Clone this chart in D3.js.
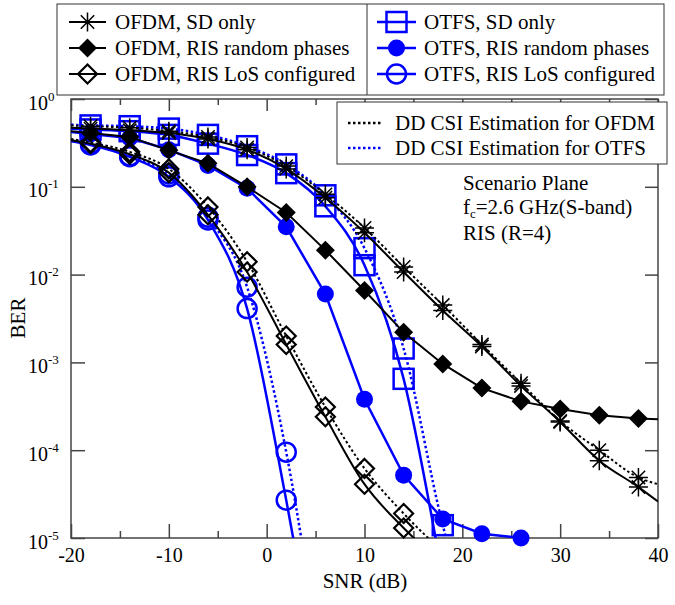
<!DOCTYPE html>
<html><head><meta charset="utf-8">
<script src="https://cdn.jsdelivr.net/npm/d3@7"></script>
<style>body{margin:0;background:#fff}svg{display:block}text{font-family:"Liberation Serif","DejaVu Serif",serif;fill:#000}</style>
</head><body>
<svg id="c" width="675" height="605"></svg>
<script>
// ---- data ----
const snrFull = [-20,-18,-14,-10,-6,-2,2,6,10,14,18,22,26,30,34,38,40];
const ofdmSD      = [0.47,0.46,0.44,0.41,0.35,0.265,0.160,0.075,0.030,0.0107,0.0039,0.00152,0.00054,0.00021,7.6e-5,3.8e-5,2.6e-5];
const ofdmSD_DD   = [0.50,0.49,0.47,0.43,0.37,0.28,0.172,0.082,0.034,0.0122,0.0045,0.0016,0.00058,0.000215,1.0e-4,4.9e-5,4.1e-5];
const ofdmRand    = [0.43,0.41,0.37,0.26,0.185,0.10,0.051,0.019,0.0066,0.0022,0.00096,0.00051,0.00036,0.000295,0.00025,0.00023,0.000225];
const snrLoS = [-20,-18,-14,-10,-6,-2,2,6,10,14,18];
const ofdmLoS     = [0.34,0.31,0.235,0.145,0.048,0.0107,0.0016,0.00024,4.1e-5,1.3e-5,5e-6];
const ofdmLoS_DD  = [0.35,0.32,0.25,0.16,0.059,0.014,0.0020,0.00031,6.2e-5,1.9e-5,7e-6];
const snrOtfsSD = [-20,-18,-14,-10,-6,-2,2,6,10,14,18];
const otfsSD      = [0.46,0.45,0.43,0.39,0.31,0.23,0.143,0.060,0.0128,0.00065,3.5e-6];
const snrOtfsSDdd = [-20,-18,-14,-10,-6,-2,2,6,10,14,18,22];
const otfsSD_DD   = [0.51,0.50,0.49,0.46,0.39,0.29,0.18,0.08,0.020,0.00144,1.4e-5,4.5e-7];
const snrOtfsRand = [-20,-18,-14,-10,-6,-2,2,6,10,14,18,22,26];
const otfsRand    = [0.42,0.40,0.36,0.265,0.175,0.096,0.035,0.006,0.00038,5.2e-5,1.65e-5,1.12e-5,1.0e-5];
const snrOtfsLoS = [-20,-18,-14,-10,-6,-2,2,6];
const otfsLoS     = [0.33,0.30,0.22,0.13,0.042,0.0041,2.7e-5,1e-7];
const otfsLoS_DD  = [0.34,0.31,0.225,0.14,0.045,0.0072,9.5e-5,1.6e-7];

const xTicksMajor = [-20,-10,0,10,20,30,40];
const xTicksMinor = [-15,-5,5,15,25,35];
const yTicks = [1,1e-1,1e-2,1e-3,1e-4,1e-5];
const yTickExp = ["0","-1","-2","-3","-4","-5"];
const legendMain = ["OFDM, SD only","OFDM, RIS random phases","OFDM, RIS LoS configured","OTFS, SD only","OTFS, RIS random phases","OTFS, RIS LoS configured"];
const legendDD = ["DD CSI Estimation for OFDM","DD CSI Estimation for OTFS"];

const BLUE = "#0000ff";
const svg = d3.select("#c");
const x = d3.scaleLinear().domain([-20,40]).range([71,658]);
const y = d3.scaleLog().domain([1e-5,1]).range([538,99]);

svg.append("defs").append("clipPath").attr("id","clip")
  .append("rect").attr("x",71).attr("y",99).attr("width",587).attr("height",439);

// axes
const axCol = "#444";
function styleAxis(g){ g.select(".domain").remove(); g.selectAll("line").attr("stroke",axCol).attr("stroke-width",1.5); }
svg.append("g").attr("transform","translate(0,538)")
  .call(d3.axisBottom(x).tickValues(xTicksMajor).tickSize(-14).tickSizeOuter(0).tickPadding(10).tickFormat(d=>String(d)))
  .call(styleAxis).selectAll("text").attr("font-size",20).attr("fill","#000");
svg.append("g").attr("transform","translate(0,538)")
  .call(d3.axisBottom(x).tickValues(xTicksMinor).tickSize(-7).tickSizeOuter(0).tickFormat("")).call(styleAxis);
svg.append("g").attr("transform","translate(0,99)")
  .call(d3.axisTop(x).tickValues(xTicksMajor).tickSize(-12).tickSizeOuter(0).tickFormat("")).call(styleAxis);
svg.append("g").attr("transform","translate(0,99)")
  .call(d3.axisTop(x).tickValues(xTicksMinor).tickSize(-6).tickSizeOuter(0).tickFormat("")).call(styleAxis);
svg.append("g").attr("transform","translate(71,0)")
  .call(d3.axisLeft(y).tickValues(yTicks).tickSize(-14).tickSizeOuter(0).tickFormat("")).call(styleAxis);
svg.append("g").attr("transform","translate(658,0)")
  .call(d3.axisRight(y).tickValues(yTicks).tickSize(-13).tickSizeOuter(0).tickFormat("")).call(styleAxis);
svg.append("rect").attr("x",71).attr("y",99).attr("width",587).attr("height",439)
  .attr("fill","none").attr("stroke",axCol).attr("stroke-width",1.5);

// y tick labels 10^n
yTicks.forEach((v,i)=>{
  const t = svg.append("text").attr("x",28).attr("y",y(v)+10.5).attr("font-size",20);
  t.append("tspan").text("10");
  t.append("tspan").attr("font-size",13).attr("dy",-9).text(yTickExp[i]);
});

// axis titles
svg.append("text").attr("x",365).attr("y",588).attr("text-anchor","middle").attr("font-size",21).text("SNR (dB)");
svg.append("text").attr("transform","translate(25,318) rotate(-90)").attr("text-anchor","middle").attr("font-size",21).text("BER");

// series
const series = [
  {x:snrOtfsRand, y:otfsRand, c:BLUE, dash:null, m:"circleFilled", curve:d3.curveLinear},
  {x:snrOtfsSD, y:otfsSD, c:BLUE, dash:null, m:"square", curve:d3.curveMonotoneX},
  {x:snrOtfsSDdd, y:otfsSD_DD, c:BLUE, dash:"2.5,2.5", m:"square", curve:d3.curveMonotoneX},
  {x:snrOtfsLoS, y:otfsLoS, c:BLUE, dash:null, m:"circleOpen", curve:d3.curveMonotoneX},
  {x:snrOtfsLoS, y:otfsLoS_DD, c:BLUE, dash:"2.5,2.5", m:"circleOpen", curve:d3.curveMonotoneX},
  {x:snrFull, y:ofdmRand, c:"#000", dash:null, m:"diamondFilled", curve:d3.curveLinear},
  {x:snrLoS, y:ofdmLoS, c:"#000", dash:null, m:"diamondOpen", curve:d3.curveMonotoneX},
  {x:snrLoS, y:ofdmLoS_DD, c:"#000", dash:"2.5,2.5", m:"diamondOpen", curve:d3.curveMonotoneX},
  {x:snrFull, y:ofdmSD, c:"#000", dash:null, m:"asterisk", curve:d3.curveMonotoneX},
  {x:snrFull, y:ofdmSD_DD, c:"#000", dash:"2.5,2.5", m:"asterisk", curve:d3.curveMonotoneX},
];

function marker(g, type, cx, cy, col){
  const s = g.append("g").attr("transform",`translate(${cx},${cy})`);
  if(type==="square") s.append("rect").attr("x",-10).attr("y",-10).attr("width",20).attr("height",20).attr("fill","none").attr("stroke",col).attr("stroke-width",2.5);
  else if(type==="circleOpen") s.append("circle").attr("r",9.5).attr("fill","none").attr("stroke",col).attr("stroke-width",2.5);
  else if(type==="circleFilled") s.append("circle").attr("r",8.5).attr("fill",col);
  else if(type==="diamondFilled") s.append("path").attr("d","M0,-9.5L9.5,0L0,9.5L-9.5,0Z").attr("fill",col);
  else if(type==="diamondOpen") s.append("path").attr("d","M0,-9.5L9.5,0L0,9.5L-9.5,0Z").attr("fill","none").attr("stroke",col).attr("stroke-width",2.2);
  else if(type==="asterisk") s.append("path").attr("d","M0,-9.5V9.5M-9.5,0H9.5M-6.7,-6.7L6.7,6.7M-6.7,6.7L6.7,-6.7").attr("fill","none").attr("stroke",col).attr("stroke-width",1.5);
}

const plot = svg.append("g");
series.forEach(s=>{
  const pts = s.x.map((v,i)=>[v,s.y[i]]);
  const line = d3.line().x(d=>x(d[0])).y(d=>y(d[1])).curve(s.curve);
  plot.append("path").attr("d",line(pts)).attr("clip-path","url(#clip)")
    .attr("fill","none").attr("stroke",s.c).attr("stroke-width",s.c===BLUE?2.5:2)
    .attr("stroke-dasharray",s.dash);
  pts.filter(d=>d[0]>-20 && d[0]<40 && d[1]>=0.95e-5).forEach(d=>marker(plot,s.m,x(d[0]),y(d[1]),s.c));
});

// top legend
svg.append("rect").attr("x",57).attr("y",4).attr("width",607).attr("height",91).attr("fill","#fff").attr("stroke","#333").attr("stroke-width",1);
svg.append("line").attr("x1",367).attr("x2",367).attr("y1",4).attr("y2",95).attr("stroke","#333").attr("stroke-width",1);
const legM = ["asterisk","diamondFilled","diamondOpen","square","circleFilled","circleOpen"];
const rowsY = [22,48,74];
legendMain.forEach((t,i)=>{
  const col = i<3 ? "#000" : BLUE;
  const x0 = i<3 ? 69 : 377, x1 = i<3 ? 106 : 416, tx = i<3 ? 115 : 424;
  const yy = rowsY[i%3];
  svg.append("line").attr("x1",x0).attr("x2",x1).attr("y1",yy).attr("y2",yy).attr("stroke",col).attr("stroke-width",col===BLUE?2.5:2);
  marker(svg, legM[i], (x0+x1)/2, yy, col);
  svg.append("text").attr("x",tx).attr("y",yy+7).attr("font-size",21).text(t);
});

// DD legend
svg.append("rect").attr("x",337).attr("y",102).attr("width",330).attr("height",62).attr("fill","#fff").attr("stroke","#333").attr("stroke-width",1);
legendDD.forEach((t,i)=>{
  const yy = 123 + i*25;
  svg.append("line").attr("x1",348).attr("x2",383).attr("y1",yy).attr("y2",yy).attr("stroke",i?BLUE:"#000").attr("stroke-width",2.5).attr("stroke-dasharray","2.5,2.5");
  svg.append("text").attr("x",395).attr("y",yy+7).attr("font-size",21).text(t);
});

// annotation
svg.append("text").attr("x",463).attr("y",190).attr("font-size",21).text("Scenario Plane");
const fc = svg.append("text").attr("x",463).attr("y",214).attr("font-size",21);
fc.append("tspan").text("f");
fc.append("tspan").attr("font-size",13).attr("dy",4).text("c");
fc.append("tspan").attr("dy",-4).text("=2.6 GHz(S-band)");
svg.append("text").attr("x",463).attr("y",240).attr("font-size",21).text("RIS (R=4)");
</script>
</body></html>
